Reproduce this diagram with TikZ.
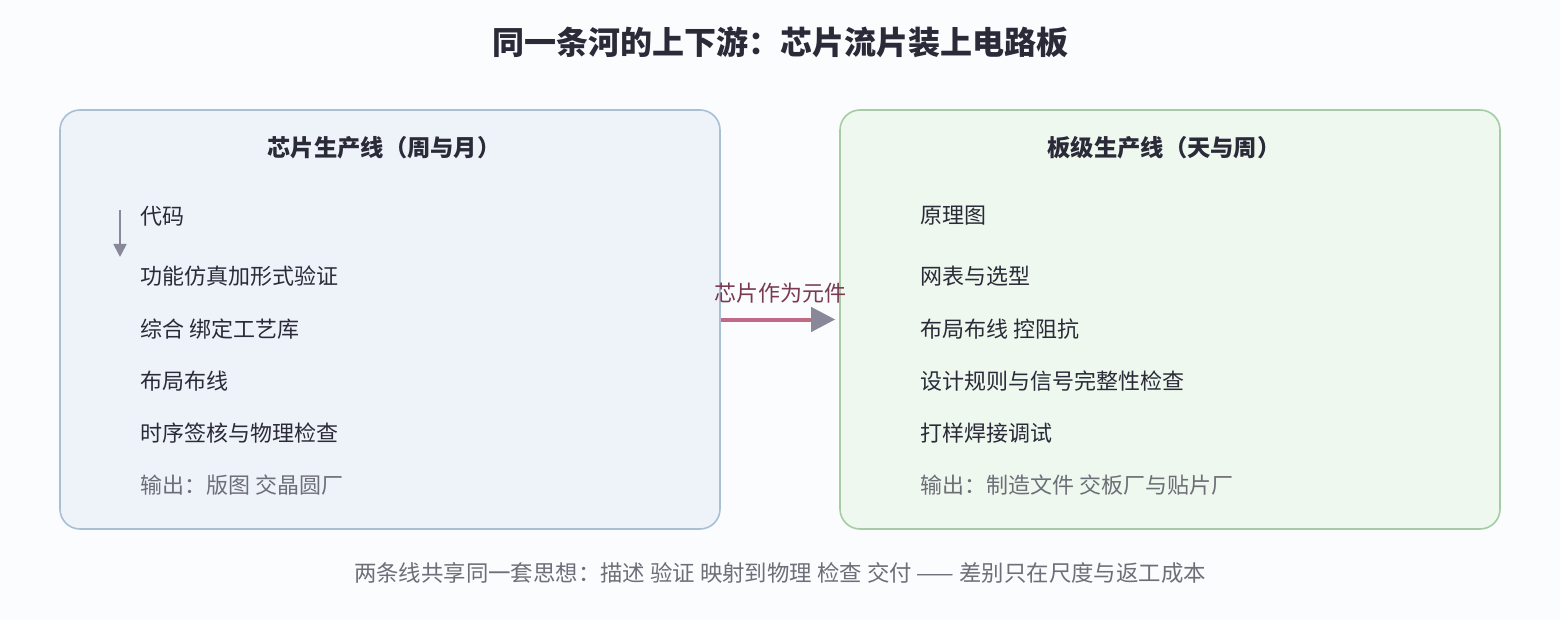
\documentclass[tikz,border=0pt]{standalone}
\usepackage{fontspec}
\setmainfont{Noto Sans CJK SC}
\usetikzlibrary{arrows.meta}
\definecolor{bg}{HTML}{FAFCFE}
\definecolor{lfill}{HTML}{EEF3FA}
\definecolor{ldraw}{HTML}{A9BFD6}
\definecolor{rfill}{HTML}{EEF8EE}
\definecolor{rdraw}{HTML}{A6CCA5}
\definecolor{ink}{HTML}{2A2A38}
\definecolor{muted}{HTML}{6E6E78}
\definecolor{pinkline}{HTML}{C06A86}
\definecolor{arrowgray}{HTML}{888898}
\definecolor{lblred}{HTML}{7A3A52}
\tikzset{
  panel/.style={rounded corners=20pt, line width=1.6pt, minimum width=660pt, minimum height=419pt, inner sep=0pt},
  titletext/.style={font=\fontsize{32}{38}\selectfont\bfseries, text=ink},
  headtext/.style={font=\fontsize{23.3}{28}\selectfont\bfseries, text=ink},
  itemtext/.style={font=\fontsize{22}{26}\selectfont, text=ink, anchor=west, inner sep=0pt},
  outtext/.style={itemtext, text=muted},
  foottext/.style={font=\fontsize{22.4}{26}\selectfont, text=muted},
}
\begin{document}
\begin{tikzpicture}[x=1pt,y=-1pt]
\fill[bg] (0,0) rectangle (1560,620);
\useasboundingbox (0,0) rectangle (1560,620);
\node[titletext] (title) at (780,42) {同一条河的上下游：芯片流片装上电路板};
\node[panel, draw=ldraw, fill=lfill] (L) at (390,319.5) {};
\node[panel, draw=rdraw, fill=rfill] (R) at (1170,319.5) {};
\node[headtext] (lh) at (384,148) {芯片生产线（周与月）};
\node[headtext] (rh) at (1164,148) {板级生产线（天与周）};
\node[itemtext] (l1) at (140,216) {代码};
\node[itemtext] (l2) at (140,276) {功能仿真加形式验证};
\node[itemtext] (l3) at (140,329) {综合 绑定工艺库};
\node[itemtext] (l4) at (140,381) {布局布线};
\node[itemtext] (l5) at (140,433) {时序签核与物理检查};
\node[outtext] (l6) at (140,485) {输出：版图 交晶圆厂};
\node[itemtext] (r1) at (920,216) {原理图};
\node[itemtext] (r2) at (920,276) {网表与选型};
\node[itemtext] (r3) at (920,329) {布局布线 控阻抗};
\node[itemtext] (r4) at (920,381) {设计规则与信号完整性检查};
\node[itemtext] (r5) at (920,433) {打样焊接调试};
\node[outtext] (r6) at (920,485) {输出：制造文件 交板厂与贴片厂};
\coordinate (fa) at (120,210);
\coordinate (fb) at (120,257);
\draw[arrowgray, line width=1.8pt, -{Triangle[length=13pt,width=13pt]}] (fa) -- (fb);
\draw[pinkline, line width=4pt, shorten >=4pt, -{Triangle[length=24pt,width=24pt,color=arrowgray,fill=arrowgray]}] (L.east) -- (R.west)
  node[midway, above=14pt, text=lblred, font=\fontsize{22}{26}\selectfont, inner sep=0pt] (mid) {芯片作为元件};
\node[foottext] (foot) at (780,573) {两条线共享同一套思想：描述 验证 映射到物理 检查 交付 —— 差别只在尺度与返工成本};
\end{tikzpicture}
\end{document}
